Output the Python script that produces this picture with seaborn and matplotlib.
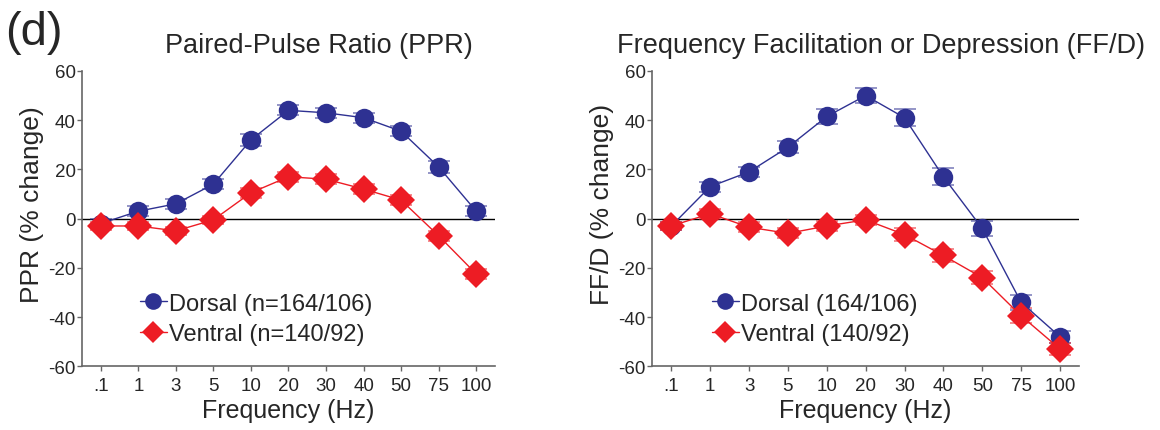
import matplotlib
matplotlib.use("Agg")
import matplotlib.pyplot as plt
import seaborn as sns
import numpy as np
import pandas as pd
from matplotlib.lines import Line2D

freq_labels = [".1", "1", "3", "5", "10", "20", "30", "40", "50", "75", "100"]

ppr_dorsal = [-2, 3, 6, 14, 32, 44, 43, 41, 35.5, 21, 3]
ppr_dorsal_err = [2, 2, 2, 2, 2.5, 2, 2, 2, 2, 2.5, 2]
ppr_ventral = [-3, -3, -5, -0.5, 10.5, 17, 16, 12, 7.5, -7, -22.5]
ppr_ventral_err = [1.5, 1.5, 1.5, 1.5, 2, 2, 2, 2, 2, 2, 2]

ffd_dorsal = [-3, 13, 19, 29, 41.5, 50, 41, 17, -4, -34, -48]
ffd_dorsal_err = [1.5, 2, 2, 2.5, 3, 3, 3.5, 3.5, 3, 3, 2.5]
ffd_ventral = [-3, 2, -3.5, -6, -3, -0.5, -6.5, -15, -24, -39.5, -53]
ffd_ventral_err = [1.5, 2, 2, 2, 2, 2, 2.5, 2.5, 2.5, 3, 2.5]

BLUE = "#2E3192"
RED = "#ED1C24"

sns.set_style("ticks")
plt.rcParams["font.family"] = ["Liberation Sans", "DejaVu Sans"]
plt.rcParams["axes.unicode_minus"] = False

fig = plt.figure(figsize=(11.6, 4.31), dpi=100)
ax1 = fig.add_axes([0.0707, 0.148, 0.356, 0.685])
ax2 = fig.add_axes([0.562, 0.148, 0.3685, 0.685])


def draw_panel(ax, dorsal, dorsal_err, ventral, ventral_err, title, ylabel, labels,
               leg_x, title_x, ylab_x):
    x = np.arange(len(freq_labels))
    df = pd.DataFrame({
        "pos": np.concatenate([x, x]),
        "val": dorsal + ventral,
        "group": ["Dorsal"] * len(x) + ["Ventral"] * len(x),
    })
    ax.axhline(0, color="black", lw=1, zorder=1)
    for vals, errs, col in [(dorsal, dorsal_err, BLUE), (ventral, ventral_err, RED)]:
        ax.errorbar(x, vals, yerr=errs, fmt="none", ecolor=col, alpha=0.6,
                    elinewidth=1.2, capsize=8, capthick=1.2, zorder=2)
    sns.lineplot(data=df, x="pos", y="val", hue="group", style="group",
                 palette={"Dorsal": BLUE, "Ventral": RED},
                 markers={"Dorsal": "o", "Ventral": "D"}, dashes=False,
                 markersize=14, markeredgewidth=0, linewidth=1,
                 ax=ax, legend=False, zorder=3)
    ax.set_xlim(-0.5, 10.5)
    ax.set_ylim(-60, 60)
    ax.set_yticks([-60, -40, -20, 0, 20, 40, 60])
    ax.set_xticks(x)
    ax.set_xticklabels(freq_labels)
    ax.tick_params(axis="x", length=3.5, width=1, color="#666666", labelsize=13.5, pad=4)
    ax.tick_params(axis="y", length=3.5, width=1, color="#666666", labelsize=13.5, pad=1)
    for s in ["top", "right"]:
        ax.spines[s].set_visible(False)
    for s in ["left", "bottom"]:
        ax.spines[s].set_color("#666666")
        ax.spines[s].set_linewidth(1.2)
    ax.set_xlabel("Frequency (Hz)", fontsize=18, labelpad=3)
    ax.set_ylabel(ylabel, fontsize=19, labelpad=2)
    ax.yaxis.set_label_coords(ylab_x, 0.55)
    ax.set_title(title, fontsize=19.5, pad=14, x=title_x)

    handles = [
        Line2D([], [], color=BLUE, marker="o", markersize=12, markeredgewidth=0, lw=1),
        Line2D([], [], color=RED, marker="D", markersize=11, markeredgewidth=0, lw=1),
    ]
    ax.legend(handles, labels, loc="lower left", bbox_to_anchor=(leg_x, 0.071),
              frameon=False, fontsize=17, handlelength=1.15, handletextpad=0.1,
              labelspacing=0.36, borderpad=0, borderaxespad=0)


draw_panel(ax1, ppr_dorsal, ppr_dorsal_err, ppr_ventral, ppr_ventral_err,
           "Paired-Pulse Ratio (PPR)", "PPR (% change)",
           ["Dorsal (n=164/106)", "Ventral (n=140/92)"], 0.14, 0.574, -0.092)
draw_panel(ax2, ffd_dorsal, ffd_dorsal_err, ffd_ventral, ffd_ventral_err,
           "Frequency Facilitation or Depression (FF/D)", "FF/D (% change)",
           ["Dorsal (164/106)", "Ventral (140/92)"], 0.14, 0.535, -0.089)

fig.text(0.004, 0.975, "(d)", fontsize=34, va="top", ha="left")

fig.savefig("out.png", dpi=100)
